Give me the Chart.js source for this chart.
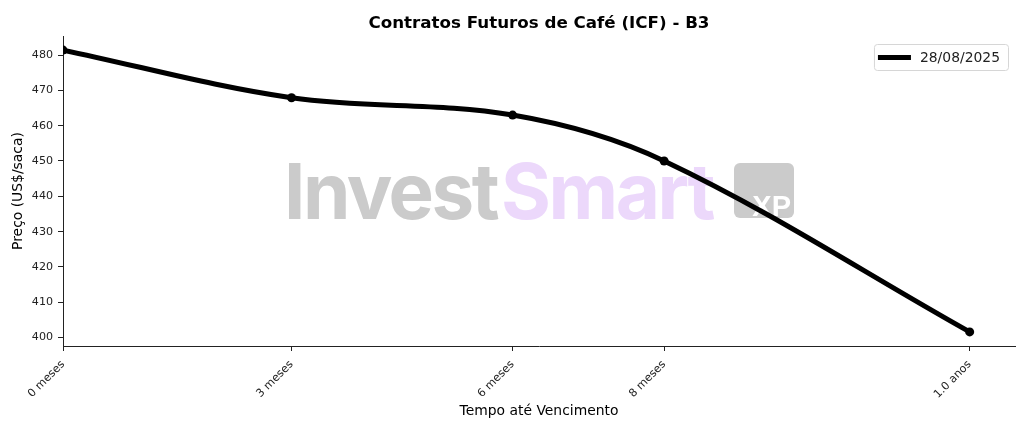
<!DOCTYPE html>
<html>
<head>
<meta charset="utf-8">
<script src="https://cdn.jsdelivr.net/npm/chart.js@4"></script>
<style>
  html, body { margin: 0; padding: 0; background: #fff; }
  #wrap { width: 1024px; height: 429px; }
</style>
</head>
<body>
<div id="wrap"><canvas id="curveChart" width="1024" height="429"></canvas></div>
<script>
// data
const seriesLabel = '28/08/2025';
const daysToExpiry = [0, 92, 181, 242, 365];
const prices = [481.4, 467.9, 463.0, 450.0, 401.6];
const xTickLabels = ['0 meses', '3 meses', '6 meses', '8 meses', '1.0 anos'];
const yTicks = [400, 410, 420, 430, 440, 450, 460, 470, 480];

const FONT = "'DejaVu Sans', sans-serif";
const INK = '#222';

// matplotlib-like 5% margins
const pMin = Math.min(...prices), pMax = Math.max(...prices);
const pPad = (pMax - pMin) * 0.05;
const xMax = Math.max(...daysToExpiry) * 1.05;

// watermark behind the line
const watermark = {
    id: 'watermark',
    beforeDatasetsDraw(chart) {
        const { ctx, chartArea } = chart;
        const cx = (chartArea.left + chartArea.right) / 2;
        const cy = (chartArea.top + chartArea.bottom) / 2;
        ctx.save();
        ctx.font = "bold 77px Inter, 'Liberation Sans', sans-serif";
        ctx.textBaseline = 'alphabetic';
        const raw = ctx.measureText('InvestSmart').width;
        ctx.letterSpacing = Math.max(-2.5, (425 - raw) / 11).toFixed(2) + 'px';
        const w1 = ctx.measureText('Invest').width;
        const w2 = ctx.measureText('Smart').width;
        const sx = 425 / (w1 + w2);
        const boxW = 60, gap = 21;
        const total = 429 + gap + boxW;
        const x0 = cx - total / 2;
        const base = cy + 28;
        ctx.translate(x0, base);
        ctx.scale(sx, 1);
        ctx.fillStyle = 'rgb(203,203,203)';
        ctx.fillText('Invest', 0, 0);
        ctx.fillStyle = 'rgb(236,216,251)';
        ctx.fillText('Smart', w1 + 4 / sx, 0);
        ctx.restore();

        ctx.save();
        const bx = x0 + 429 + gap, by = base - 56;
        ctx.fillStyle = 'rgb(203,203,203)';
        ctx.beginPath();
        ctx.roundRect(bx, by, boxW, 55, 6);
        ctx.fill();
        ctx.beginPath();
        ctx.rect(bx, by, boxW, 55);
        ctx.clip();
        ctx.fillStyle = '#fff';
        ctx.font = "bold 29px 'Liberation Sans', Arial, sans-serif";
        ctx.textAlign = 'right';
        ctx.fillText('XP', bx + boxW - 3, by + 53);
        ctx.restore();
    }
};

// title centred on the plot area, legend box in the upper right
const decor = {
    id: 'decor',
    afterDraw(chart) {
        const { ctx, chartArea } = chart;
        ctx.save();
        ctx.fillStyle = '#000';
        ctx.font = 'bold 16.7px ' + FONT;
        ctx.textAlign = 'center';
        ctx.textBaseline = 'alphabetic';
        ctx.fillText('Contratos Futuros de Café (ICF) - B3', (chartArea.left + chartArea.right) / 2, 28);

        const ds = chart.data.datasets[0];
        ctx.font = '13.9px ' + FONT;
        const tw = ctx.measureText(ds.label).width;
        const bw = tw + 54, bh = 26;
        const bx = chartArea.right - 7 - bw, by = chartArea.top + 8;
        ctx.fillStyle = 'rgba(255,255,255,0.8)';
        ctx.strokeStyle = '#d6d6d6';
        ctx.lineWidth = 1;
        ctx.beginPath();
        ctx.roundRect(bx + 0.5, by + 0.5, bw, bh, 3);
        ctx.fill();
        ctx.stroke();
        ctx.strokeStyle = ds.borderColor;
        ctx.lineWidth = ds.borderWidth;
        ctx.beginPath();
        ctx.moveTo(bx + 4, by + bh / 2 + 0.5);
        ctx.lineTo(bx + 37, by + bh / 2 + 0.5);
        ctx.stroke();
        ctx.fillStyle = '#222';
        ctx.textAlign = 'left';
        ctx.textBaseline = 'middle';
        ctx.fillText(ds.label, bx + 46, by + bh / 2 + 1);
        ctx.restore();
    }
};

const ctx = document.getElementById('curveChart').getContext('2d');
new Chart(ctx, {
    type: 'line',
    data: {
        datasets: [{
            label: seriesLabel,
            data: daysToExpiry.map((d, i) => ({ x: d, y: prices[i] })),
            borderColor: '#000',
            backgroundColor: '#000',
            borderWidth: 5,
            tension: 0.35,
            pointRadius: 4.5,
            pointBorderWidth: 0,
            pointBackgroundColor: '#000',
            fill: false
        }]
    },
    options: {
        responsive: false,
        animation: false,
        devicePixelRatio: 1,
        layout: { padding: { top: 36, right: 9, left: 0, bottom: 0 } },
        plugins: {
            legend: { display: false },
            title: { display: false },
            tooltip: { enabled: false }
        },
        scales: {
            x: {
                type: 'linear',
                min: 0,
                max: xMax,
                afterBuildTicks: (scale) => { scale.ticks = daysToExpiry.map(v => ({ value: v })); },
                afterFit: (scale) => { scale.height = 83; },
                ticks: {
                    autoSkip: false,
                    minRotation: 45,
                    maxRotation: 45,
                    padding: 7,
                    color: INK,
                    font: { family: FONT, size: 11.1 },
                    callback: (v, i) => xTickLabels[i]
                },
                grid: { display: true, drawOnChartArea: false, drawTicks: true, tickLength: 5, color: INK },
                border: { display: true, color: INK, width: 1 },
                title: {
                    display: true,
                    text: 'Tempo até Vencimento',
                    color: '#000',
                    font: { family: FONT, size: 13.9 },
                    padding: { top: 0, bottom: 9.7 }
                }
            },
            y: {
                type: 'linear',
                min: pMin - pPad,
                max: pMax + pPad,
                afterBuildTicks: (scale) => { scale.ticks = yTicks.map(v => ({ value: v })); },
                afterFit: (scale) => { scale.width = 63; },
                ticks: {
                    padding: 5,
                    color: INK,
                    font: { family: FONT, size: 11.1 }
                },
                grid: { display: true, drawOnChartArea: false, drawTicks: true, tickLength: 5, color: INK },
                border: { display: true, color: INK, width: 1 },
                title: {
                    display: true,
                    text: 'Preço (US$/saca)',
                    color: '#000',
                    font: { family: FONT, size: 13.9 },
                    padding: { top: 9.7, bottom: 0 }
                }
            }
        }
    },
    plugins: [watermark, decor]
});
</script>
</body>
</html>
